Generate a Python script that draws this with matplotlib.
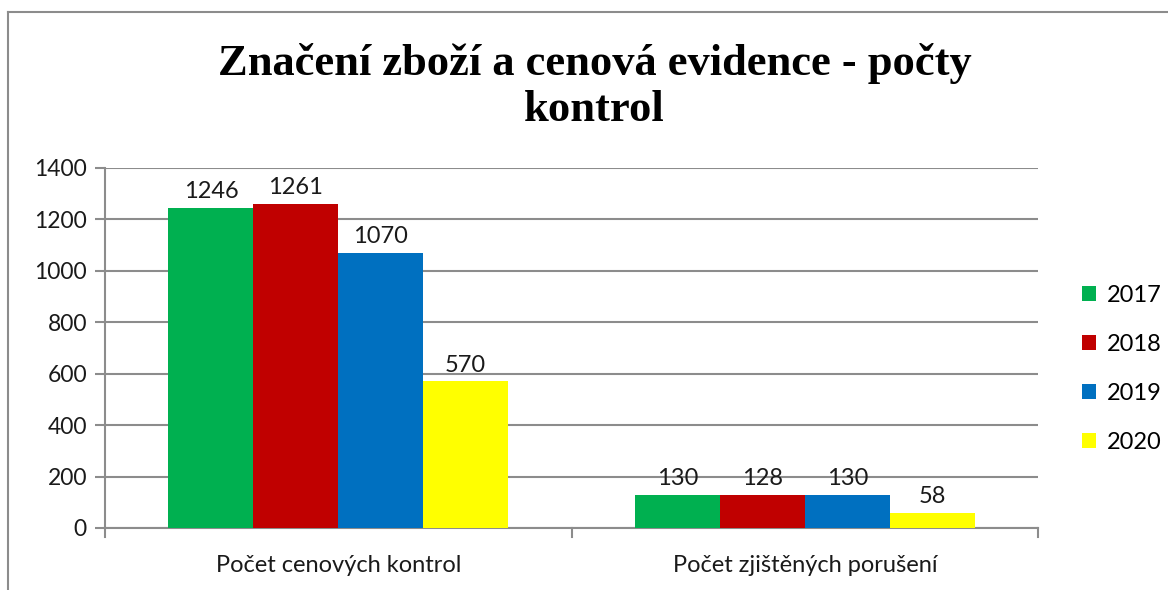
import numpy as np
import matplotlib.pyplot as plt
from matplotlib.lines import Line2D

categories = ['Počet cenových kontrol', 'Počet zjištěných porušení']
years = ['2017', '2018', '2019', '2020']
values_2017 = [1246, 130]
values_2018 = [1261, 128]
values_2019 = [1070, 130]
values_2020 = [570, 58]
colors = ['#00B050', '#C00000', '#0070C0', '#FFFF00']
title = 'Značení zboží a cenová evidence - počty\nkontrol'


def main():
    plt.rcParams['font.family'] = ['Lato', 'DejaVu Sans']
    series = [values_2017, values_2018, values_2019, values_2020]

    fig = plt.figure(figsize=(11.68, 5.9), dpi=100)
    ax = fig.add_axes([0.0899, 0.1051, 0.7988, 0.6102])

    x = np.arange(len(categories))
    w = 0.182
    for i, (vals, col, yr) in enumerate(zip(series, colors, years)):
        pos = x + (i - 1.5) * w
        bars = ax.bar(pos, vals, width=w, color=col, label=yr, zorder=3)
        for b, v in zip(bars, vals):
            ax.text(b.get_x() + b.get_width() / 2, v + 22, str(v),
                    ha='center', va='bottom', fontsize=17, color='#1a1a1a')

    ax.set_xlim(-0.5, 1.5)
    ax.set_ylim(0, 1400)
    ax.set_yticks(range(0, 1401, 200))
    ax.yaxis.grid(True, color='#8c8c8c', linewidth=1.5, zorder=0)
    ax.tick_params(axis='y', labelsize=16.5, colors='#8c8c8c', labelcolor='#1a1a1a',
                   length=7, width=1.5, pad=6)

    ax.set_xticks([])
    for xx in [-0.5, 0.5, 1.5]:
        ax.plot([xx, xx], [0, -0.025], transform=ax.get_xaxis_transform(),
                color='#8c8c8c', linewidth=1.5, clip_on=False)
    for xx, lab in zip(x, categories):
        ax.text(xx, -0.105, lab, transform=ax.get_xaxis_transform(),
                ha='center', va='center', fontsize=17, color='#1a1a1a')

    for s in ['top', 'right']:
        ax.spines[s].set_visible(False)
    for s in ['left', 'bottom']:
        ax.spines[s].set_color('#8c8c8c')
        ax.spines[s].set_linewidth(1.5)

    fig.text(0.509, 0.853, title, ha='center', va='center', fontsize=32,
             fontweight='bold', family='Liberation Serif', linespacing=1.2)

    handles, labels = ax.get_legend_handles_labels()
    fig.legend(handles, labels, loc='center left', bbox_to_anchor=(0.908, 0.375),
               frameon=False, fontsize=17, handlelength=0.6, handleheight=0.6,
               handletextpad=0.45, labelspacing=1.18)

    # outer chart border (top and left edges visible)
    fig.add_artist(Line2D([8 / 1168, 8 / 1168], [0, 1 - 12 / 590],
                          transform=fig.transFigure, color='#8c8c8c', linewidth=1.5))
    fig.add_artist(Line2D([8 / 1168, 1], [1 - 12 / 590, 1 - 12 / 590],
                          transform=fig.transFigure, color='#8c8c8c', linewidth=1.5))

    fig.savefig('out.png', dpi=100)


if __name__ == "__main__":
    main()
